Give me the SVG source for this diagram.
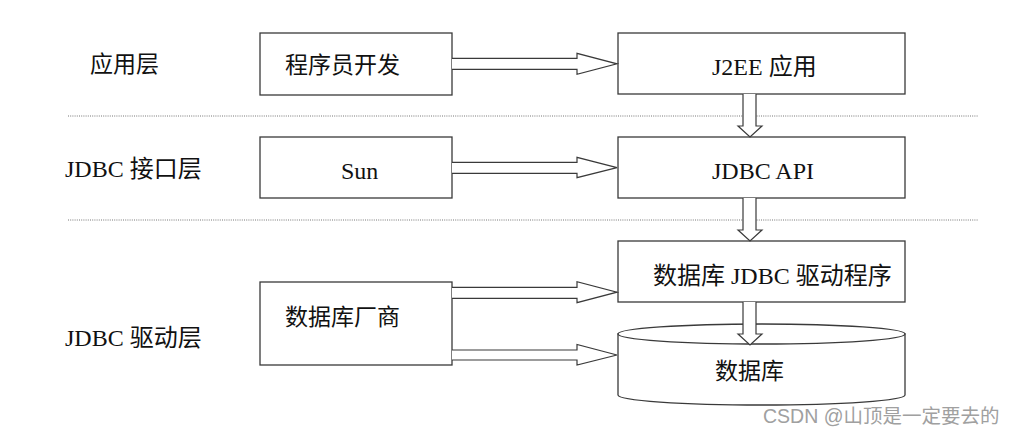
<svg xmlns="http://www.w3.org/2000/svg" width="1010" height="437" viewBox="0 0 1010 437">
<style>
.box{fill:#fff;stroke:#3a3a3a;stroke-width:1.3}
.arr{fill:#fff;stroke:#3a3a3a;stroke-width:1.2;stroke-linejoin:miter}
.sep{stroke:#777;stroke-width:1;stroke-dasharray:1 1.2;fill:none}
.t{font-family:"Liberation Serif","Noto Sans CJK SC",serif;font-size:24px;fill:#111}
.c{font-family:"Noto Sans CJK SC",sans-serif;font-size:23px;fill:#111}
.wm{font-family:"Liberation Sans","Noto Sans CJK SC",sans-serif;font-size:19.5px;fill:#a0a0a0}
</style>
<rect width="1010" height="437" fill="#fff"/>
<g id="separators">
<line class="sep" x1="68" y1="116" x2="978" y2="116"/>
<line class="sep" x1="68" y1="220" x2="978" y2="220"/>
</g>
<g id="layer-labels">
<text class="c" x="90" y="72">应用层</text>
<text class="t" x="65" y="177">JDBC 接口层</text>
<text class="t" x="65" y="346">JDBC 驱动层</text>
</g>
<g id="node-dev">
<rect class="box" x="260" y="33" width="192" height="62"/>
<text class="c" x="285" y="73">程序员开发</text>
</g>
<g id="node-j2ee">
<rect class="box" x="618" y="33" width="287" height="61"/>
<text class="t" x="712" y="75">J2EE 应用</text>
</g>
<g id="node-sun">
<rect class="box" x="260" y="137" width="192" height="61"/>
<text class="t" x="341" y="179">Sun</text>
</g>
<g id="node-jdbcapi">
<rect class="box" x="618" y="137" width="287" height="61"/>
<text class="t" x="712" y="179">JDBC API</text>
</g>
<g id="node-vendor">
<rect class="box" x="260" y="282" width="192" height="83"/>
<text class="c" x="285" y="325">数据库厂商</text>
</g>
<g id="node-driver">
<rect class="box" x="618" y="241" width="287" height="61"/>
<text class="t" x="653" y="284">数据库 JDBC 驱动程序</text>
</g>
<g id="node-db">
<path class="box" d="M618,334 L618,395 A143.5,10 0 0 0 905,395 L905,334 Z"/>
<ellipse class="box" cx="761.5" cy="334" rx="143.5" ry="10"/>
<text class="c" x="715" y="379">数据库</text>
</g>
<g id="connectors">
<polyline class="arr" points="452,58.3 577,58.3 577,53.3 617,63.8 577,74.3 577,69.3 452,69.3"/>
<polyline class="arr" points="452,162.3 577,162.3 577,157.3 617,167.6 577,177.7 577,173.3 452,173.3"/>
<polyline class="arr" points="452,287.3 577,287.3 577,281.7 617,292.2 577,302.7 577,298.3 452,298.3"/>
<polyline class="arr" points="452,350 577,350 577,344.5 617,355 577,365 577,360 452,360"/>
<polyline class="arr" points="743,94 743,126 738,126 750,137 762,126 756,126 756,94"/>
<polyline class="arr" points="743,198 743,230 738,230 750,241 762,230 756,230 756,198"/>
<polyline class="arr" points="743,302 743,334 738,334 750,345 762,334 756,334 756,302"/>
</g>
<text class="wm" x="763" y="423">CSDN @山顶是一定要去的</text>
</svg>
